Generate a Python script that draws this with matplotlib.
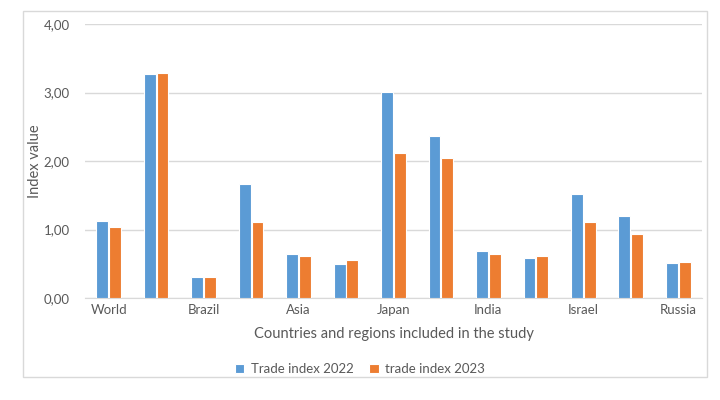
import numpy as np
import matplotlib.pyplot as plt
from matplotlib.patches import Rectangle

# tick labels as shown (Excel skipped every other one)
categories = ["World", "", "Brazil", "", "Asia", "", "Japan", "", "India", "", "Israel", "", "Russia"]
trade_2022 = [1.12, 3.27, 0.31, 1.67, 0.64, 0.50, 3.01, 2.37, 0.68, 0.59, 1.52, 1.20, 0.51]
trade_2023 = [1.04, 3.29, 0.30, 1.11, 0.62, 0.55, 2.11, 2.05, 0.64, 0.62, 1.11, 0.94, 0.52]

plt.rcParams['font.family'] = ['Lato', 'DejaVu Sans']
grey = '#595959'

fig = plt.figure(figsize=(7.2, 4.0), dpi=100)
ax = fig.add_axes([0.118, 0.255, 0.857, 0.685])

x = np.arange(len(categories))
w = 0.25
ax.bar(x - 0.135, trade_2022, w, color='#5B9BD5', edgecolor='white', linewidth=0.8, label='Trade index 2022', zorder=3)
ax.bar(x + 0.135, trade_2023, w, color='#ED7D31', edgecolor='white', linewidth=0.8, label='trade index 2023', zorder=3)

ax.set_xlim(-0.5, len(categories) - 0.5)
ax.set_ylim(0, 4)
ax.set_yticks([0, 1, 2, 3, 4])
ax.set_yticklabels(['0,00', '1,00', '2,00', '3,00', '4,00'])
ax.set_xticks(x)
ax.set_xticklabels(categories)
ax.tick_params(axis='both', length=0, colors=grey, labelsize=9.5)
ax.tick_params(axis='y', pad=11)
ax.tick_params(axis='x', pad=4)

ax.yaxis.grid(True, color='#D9D9D9', linewidth=1, zorder=0)
for s in ['top', 'right', 'left']:
    ax.spines[s].set_visible(False)
ax.spines['bottom'].set_color('#D9D9D9')

ax.set_ylabel('Index value', color=grey, fontsize=10.5, labelpad=1)
ax.set_xlabel('Countries and regions included in the study', color=grey, fontsize=10.5, labelpad=8)

leg = fig.legend(loc='center', bbox_to_anchor=(0.5, 0.078), ncol=2, frameon=False,
                 fontsize=9.5, handlelength=0.7, handleheight=0.7, columnspacing=1.2, handletextpad=0.5)
for t in leg.get_texts():
    t.set_color(grey)

# chart border
fig.patches.append(Rectangle((23 / 720, 1 - 377 / 400), (707 - 23) / 720, (377 - 11) / 400,
                             transform=fig.transFigure, fill=False, edgecolor='#D9D9D9', linewidth=1))

fig.savefig('out.png', dpi=100)
